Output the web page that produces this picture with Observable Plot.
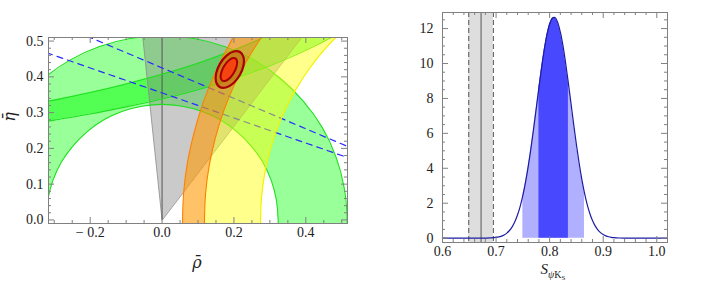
<!DOCTYPE html>
<html><head><meta charset="utf-8">
<script src="https://cdn.jsdelivr.net/npm/d3@7"></script>
<script src="https://cdn.jsdelivr.net/npm/@observablehq/plot@0.6"></script>
<style>
body{margin:0;background:#fff}
#wrap{position:relative;width:716px;height:305px}
#left,#right{position:absolute;top:0}
#left{left:0} #right{left:370px}
</style>
</head><body>
<div id="wrap"><div id="left"></div><div id="right"></div></div>
<script>
// ---------- Left panel: (rho-bar, eta-bar) plane ----------
const rhoTicks = [-0.2, 0, 0.2, 0.4];
const rhoMinor = [-0.3, -0.25, -0.15, -0.1, -0.05, 0.05, 0.1, 0.15, 0.25, 0.3, 0.35, 0.45, 0.5];
const etaTicks = [0, 0.1, 0.2, 0.3, 0.4, 0.5];
const etaMinor = [0.02,0.04,0.06,0.08,0.12,0.14,0.16,0.18,0.22,0.24,0.26,0.28,0.32,0.34,0.36,0.38,0.42,0.44,0.46,0.48];

// |Vub/Vcb| ring (green), outer and inner edges
const vubOuter = [[0.513,-0.045],[0.515,0],[0.507,0.089],[0.484,0.176],[0.446,0.258],[0.394,0.331],[0.331,0.394],[0.258,0.446],[0.176,0.484],[0.089,0.507],[0,0.515],[-0.089,0.507],[-0.176,0.484],[-0.258,0.446],[-0.331,0.394],[-0.394,0.331],[-0.446,0.258],[-0.484,0.176],[-0.507,0.089],[-0.515,0]];
const vubInner = [[0.322,-0.028],[0.323,0],[0.318,0.056],[0.304,0.110],[0.280,0.162],[0.247,0.208],[0.208,0.247],[0.162,0.280],[0.110,0.304],[0.056,0.318],[0,0.323],[-0.056,0.318],[-0.110,0.304],[-0.162,0.280],[-0.208,0.247],[-0.247,0.208],[-0.280,0.162],[-0.304,0.110],[-0.318,0.056],[-0.323,0]];

// epsilon_K band (green)
const epsRho  = [-0.34,-0.3,-0.2,-0.1,0,0.1,0.2,0.3,0.4,0.5,0.55];
const epsLow  = [0.272,0.279,0.296,0.316,0.338,0.364,0.395,0.431,0.474,0.526,0.557];
const epsHigh = [0.328,0.335,0.356,0.380,0.407,0.438,0.475,0.518,0.570,0.633,0.671];

// Delta m_d / Delta m_s bands (orange and yellow)
const rtOuter = [[0.0576,-0.033],[0.057,0],[0.0606,0.0822],[0.0713,0.1637],[0.0892,0.2441],[0.1125,0.3225],[0.142,0.3985],[0.177,0.4715],[0.216,0.5409]];
const rtMid   = [[0.1185,-0.0308],[0.118,0],[0.1214,0.0769],[0.1314,0.1532],[0.1481,0.2283],[0.1705,0.3016],[0.1990,0.3727],[0.2335,0.4410],[0.2735,0.5059],[0.318,0.5669]];
const rtInner = [[0.2744,-0.0253],[0.274,0],[0.2768,0.0633],[0.2850,0.1260],[0.2987,0.1879],[0.3178,0.2483],[0.3420,0.3068],[0.3713,0.3630],[0.4053,0.4164],[0.4439,0.4667],[0.4866,0.5134],[0.5333,0.5561]];

// gamma wedge (gray) and rho = 0 line
const gammaWedge = [[0,0],[-0.0557,0.53],[0.403,0.53]];
const rhoZero = [{rho: 0, from: 0, to: 0.52}];

// sin 2beta lines (blue dashed)
const blueUpper = [[-0.35,0.574],[0.55,0.191]];
const blueLower = [[-0.35,0.4775],[0.55,0.1625]];

// fit contours (red)
const fitOuter = [[0.2168,0.4695],[0.1993,0.4709],[0.1788,0.4588],[0.1610,0.4364],[0.1505,0.4098],[0.1502,0.3861],[0.1602,0.3715],[0.1777,0.3701],[0.1982,0.3822],[0.2160,0.4046],[0.2265,0.4312],[0.2268,0.4549]];
const fitInner = [[0.2042,0.4519],[0.1947,0.4518],[0.1828,0.4433],[0.1719,0.4287],[0.1647,0.4118],[0.1632,0.3973],[0.1678,0.3891],[0.1773,0.3892],[0.1892,0.3977],[0.2001,0.4123],[0.2073,0.4292],[0.2088,0.4437]];

// ---------- Right panel: S_psiKS distribution ----------
const sX = [0.60,0.62,0.64,0.66,0.68,0.69,0.70,0.705,0.71,0.715,0.72,0.725,0.73,0.735,0.74,0.745,0.75,0.755,0.76,0.765,0.77,0.775,0.78,0.785,0.79,0.795,0.80,0.805,0.81,0.815,0.82,0.825,0.83,0.835,0.84,0.845,0.85,0.855,0.86,0.865,0.87,0.875,0.88,0.885,0.89,0.895,0.90,0.905,0.91,0.915,0.92,0.93,0.94,0.96,0.98,1.00,1.02];
const sY = [0,0,0,0.0003,0.0042,0.0141,0.0425,0.0712,0.116,0.185,0.288,0.438,0.648,0.938,1.323,1.821,2.446,3.209,4.108,5.128,6.250,7.433,8.626,9.771,10.80,11.65,12.26,12.59,12.63,12.35,11.79,10.99,9.987,8.861,7.673,6.483,5.346,4.302,3.379,2.589,1.936,1.413,1.007,0.700,0.475,0.314,0.203,0.128,0.0787,0.0472,0.0277,0.0088,0.0026,0,0,0,0];
const band68 = [0.78, 0.835];
const band95 = [0.75, 0.865];
const sExp = {center: 0.672, low: 0.649, high: 0.695};
const sTicks = [0.6, 0.7, 0.8, 0.9, 1.0];
const sMinor = [0.62,0.64,0.66,0.68,0.72,0.74,0.76,0.78,0.82,0.84,0.86,0.88,0.92,0.94,0.96,0.98,1.02];
const pTicks = [0, 2, 4, 6, 8, 10, 12];
const pMinor = [0.5,1,1.5,2.5,3,3.5,4.5,5,5.5,6.5,7,7.5,8.5,9,9.5,10.5,11,11.5,12.5];

// ---------- helpers ----------
const P = d => d[0], Q = d => d[1];
const poly = (a, b) => a.concat(b.slice().reverse());
const fmtSigned = d => d < 0 ? "\u2212 " + (-d).toFixed(1) : d.toFixed(1);
const FONT = "Liberation Serif, serif";
const TICK = "#808080";

function frameTicks(xMaj, xMin, yMaj, yMin, iw, ih) {
  const M = 6, m = 3;
  return [
    Plot.tickX(xMaj, {x: d => d, stroke: TICK, insetTop: ih - M}),
    Plot.tickX(xMaj, {x: d => d, stroke: TICK, insetBottom: ih - M}),
    Plot.tickX(xMin, {x: d => d, stroke: TICK, insetTop: ih - m}),
    Plot.tickX(xMin, {x: d => d, stroke: TICK, insetBottom: ih - m}),
    Plot.tickY(yMaj, {y: d => d, stroke: TICK, insetRight: iw - M}),
    Plot.tickY(yMaj, {y: d => d, stroke: TICK, insetLeft: iw - M}),
    Plot.tickY(yMin, {y: d => d, stroke: TICK, insetRight: iw - m}),
    Plot.tickY(yMin, {y: d => d, stroke: TICK, insetLeft: iw - m}),
    Plot.frame({stroke: TICK, strokeWidth: 1})
  ];
}
function serifTicks(svg) {
  d3.select(svg).selectAll("text").style("font-family", FONT).style("font-size", "14px").style("fill", "#222");
}

// ---------- left chart ----------
const LW = 370, LH = 305, LML = 48, LMR = 23, LMT = 37, LMB = 82;
const epsData = epsRho.map((r, i) => ({r, lo: epsLow[i], hi: epsHigh[i]}));
const left = Plot.plot({
  width: LW, height: LH, marginLeft: LML, marginRight: LMR, marginTop: LMT, marginBottom: LMB,
  style: {fontFamily: FONT, fontSize: "14px", color: "#222", background: "transparent"},
  x: {domain: [-0.316, 0.516], ticks: rhoTicks, tickFormat: fmtSigned, tickSize: 0, tickPadding: 4, label: null},
  y: {domain: [-0.01, 0.51], ticks: etaTicks, tickFormat: d => d.toFixed(1), tickSize: 0, tickPadding: 5, label: null},
  marks: [
    Plot.line(poly(vubOuter, vubInner), {x: P, y: Q, fill: "#00ff00", fillOpacity: 0.4, stroke: "none", clip: true}),
    Plot.areaY(epsData, {x: "r", y1: "lo", y2: "hi", fill: "#00ff00", fillOpacity: 0.45, curve: "catmull-rom", clip: true}),
    Plot.line(gammaWedge, {x: P, y: Q, fill: "#808080", fillOpacity: 0.42, stroke: "#8a8a8a", strokeWidth: 0.8, curve: "linear-closed", clip: true}),
    Plot.ruleX(rhoZero, {x: "rho", y1: "from", y2: "to", stroke: "#555", strokeWidth: 1, clip: true}),
    Plot.line(vubOuter, {x: P, y: Q, stroke: "#1fe01f", strokeWidth: 1.1, curve: "catmull-rom", clip: true}),
    Plot.line(vubInner, {x: P, y: Q, stroke: "#1fe01f", strokeWidth: 1.1, curve: "catmull-rom", clip: true}),
    Plot.line(epsData, {x: "r", y: "lo", stroke: "#1fe01f", strokeWidth: 1.1, curve: "catmull-rom", clip: true}),
    Plot.line(epsData, {x: "r", y: "hi", stroke: "#1fe01f", strokeWidth: 1.1, curve: "catmull-rom", clip: true}),
    Plot.line(blueUpper, {x: P, y: Q, stroke: "#2a2aff", strokeWidth: 1.2, strokeDasharray: "6,5", clip: true}),
    Plot.line(blueLower, {x: P, y: Q, stroke: "#2a2aff", strokeWidth: 1.2, strokeDasharray: "6,5", clip: true}),
    Plot.line(poly(rtMid, rtInner), {x: P, y: Q, fill: "#ffff00", fillOpacity: 0.45, stroke: "none", curve: "catmull-rom", clip: true}),
    Plot.line(poly(rtOuter, rtMid), {x: P, y: Q, fill: "#ff9900", fillOpacity: 0.6, stroke: "none", curve: "catmull-rom", clip: true}),
    Plot.line(rtInner, {x: P, y: Q, stroke: "#f2f200", strokeWidth: 1.2, curve: "catmull-rom", clip: true}),
    Plot.line(rtMid, {x: P, y: Q, stroke: "#ff8000", strokeWidth: 1.1, curve: "catmull-rom", clip: true}),
    Plot.line(rtOuter, {x: P, y: Q, stroke: "#ff8000", strokeWidth: 1.1, curve: "catmull-rom", clip: true}),
    Plot.line(fitOuter, {x: P, y: Q, fill: "#c83000", fillOpacity: 0.35, stroke: "#a80000", strokeWidth: 2.2, curve: "catmull-rom-closed"}),
    Plot.line(fitInner, {x: P, y: Q, fill: "#ff3a10", fillOpacity: 0.85, stroke: "#a80000", strokeWidth: 2, curve: "catmull-rom-closed"}),
    ...frameTicks(rhoTicks, rhoMinor, etaTicks, etaMinor, LW - LML - LMR, LH - LMT - LMB)
  ]
});
serifTicks(left);
document.getElementById("left").appendChild(left);
const sl = d3.select(left);
sl.append("text").attr("x", 197).attr("y", 268).attr("text-anchor", "middle")
  .style("font-family", "DejaVu Serif, serif").attr("font-style", "italic").attr("font-size", 16).attr("fill", "#222")
  .text("\u03c1\u0304");
sl.append("text").attr("transform", "translate(15,117) rotate(-90)").attr("text-anchor", "middle")
  .style("font-family", "DejaVu Serif, serif").attr("font-style", "italic").attr("font-size", 16).attr("fill", "#222")
  .text("\u03b7\u0304");

// ---------- right chart ----------
const RW = 346, RH = 305, RML = 72, RMR = 49, RMT = 12, RMB = 63;
const sData = sX.map((x, i) => ({x, y: sY[i]}));
const right = Plot.plot({
  width: RW, height: RH, marginLeft: RML, marginRight: RMR, marginTop: RMT, marginBottom: RMB,
  style: {fontFamily: FONT, fontSize: "14px", color: "#222", background: "transparent"},
  x: {domain: [0.6, 1.02], ticks: sTicks, tickFormat: d => d.toFixed(1), tickSize: 0, tickPadding: 4, label: null},
  y: {domain: [-0.25, 12.92], ticks: pTicks, tickFormat: d => String(d), tickSize: 0, tickPadding: 9, label: null},
  marks: [
    Plot.rect([sExp], {x1: "low", x2: "high", fill: "#dedede"}),
    Plot.ruleX([sExp.low, sExp.high], {x: d => d, stroke: "#555", strokeWidth: 1, strokeDasharray: "5,3"}),
    Plot.ruleX([sExp.center], {x: d => d, stroke: "#555", strokeWidth: 1}),
    Plot.areaY(sData.filter(d => d.x >= band95[0] && d.x <= band95[1]), {x: "x", y: "y", fill: "#b0b0ff"}),
    Plot.areaY(sData.filter(d => d.x >= band68[0] && d.x <= band68[1]), {x: "x", y: "y", fill: "#4848ff"}),
    Plot.line(sData, {x: "x", y: "y", stroke: "#1c1ca0", strokeWidth: 1.2, curve: "catmull-rom"}),
    ...frameTicks(sTicks, sMinor, pTicks, pMinor, RW - RML - RMR, RH - RMT - RMB)
  ]
});
serifTicks(right);
document.getElementById("right").appendChild(right);
const sr = d3.select(right);
const lab = sr.append("text").attr("x", 183).attr("y", 274).attr("text-anchor", "middle")
  .style("font-family", FONT).attr("font-size", 15).attr("fill", "#222");
lab.append("tspan").attr("font-style", "italic").text("S");
lab.append("tspan").attr("font-style", "italic").attr("font-size", 10).attr("dy", 4).text("\u03c8");
lab.append("tspan").attr("font-size", 10).text("K");
lab.append("tspan").attr("font-size", 7).attr("dy", 2).text("S");
</script>
</body></html>
